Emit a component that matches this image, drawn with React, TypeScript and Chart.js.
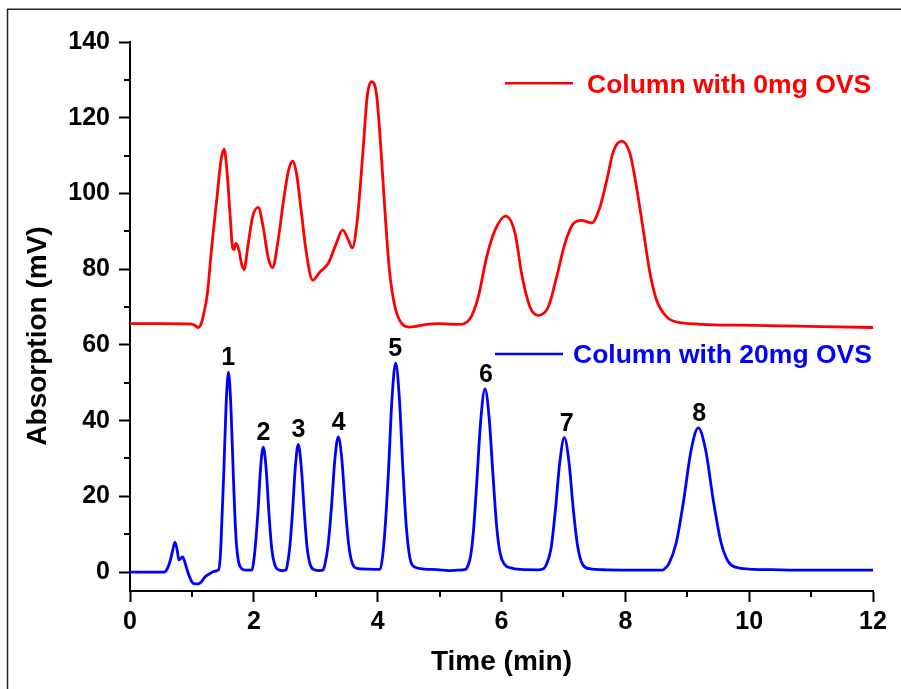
import { useEffect, useRef } from "react";
import { Chart, registerables } from "chart.js";

Chart.register(...registerables);

const FONT = "'Liberation Sans', Arial, Helvetica, sans-serif";

// Axis ticks
const xTicks = [0, 2, 4, 6, 8, 10, 12];
const xMinorTicks = [1, 3, 5, 7, 9, 11];
const yTicks = [0, 20, 40, 60, 80, 100, 120, 140];
const yMinorTicks = [10, 30, 50, 70, 90, 110, 130];

const xTitle = "Time (min)";
const yTitle = "Absorption (mV)";
const seriesNames = ["Column with 0mg OVS", "Column with 20mg OVS"];

// Red trace: column with 0mg OVS
const redTime = [
  0, 0.5, 1.0, 1.06, 1.1, 1.14, 1.18, 1.25, 1.32, 1.4, 1.47, 1.52, 1.57, 1.615,
  1.66, 1.68, 1.71, 1.76, 1.8, 1.84, 1.91, 1.98, 2.07, 2.15, 2.23, 2.3, 2.4,
  2.48, 2.56, 2.63, 2.69, 2.77, 2.85, 2.95, 3.07, 3.2, 3.31, 3.435, 3.53, 3.59,
  3.67, 3.76, 3.83, 3.9, 3.98, 4.05, 4.12, 4.19, 4.28, 4.39, 4.52, 4.79, 5.0,
  5.3, 5.49, 5.625, 5.76, 5.895, 6.067, 6.22, 6.325, 6.46, 6.594, 6.755, 6.89,
  7.025, 7.16, 7.295, 7.456, 7.59, 7.7, 7.805, 7.94, 8.075, 8.18, 8.29, 8.4,
  8.506, 8.668, 8.88, 9.85, 12.0,
];
const redValue = [
  65.6, 65.6, 65.5, 65.0, 64.6, 65.2, 67.4, 73.6, 85.9, 98.2, 108.8, 111.7,
  105.2, 94.7, 85.5, 85.2, 86.8, 85.0, 81.5, 79.9, 86.8, 93.8, 96.3, 91.2, 83.2,
  80.4, 88.5, 98.2, 106.1, 108.5, 105.2, 94.7, 84.1, 77.1, 79.3, 81.5, 85.9,
  90.3, 87.6, 85.6, 92.9, 110.5, 125.5, 129.5, 126.4, 112.3, 94.7, 79.7, 70.0,
  65.6, 64.7, 65.4, 65.6, 65.4, 66.9, 72.7, 83.2, 90.3, 94.0, 89.4, 78.8, 70.0,
  67.8, 70.0, 77.9, 86.8, 92.0, 92.9, 92.2, 96.4, 103.5, 111.0, 113.8, 110.5,
  101.7, 90.3, 78.8, 71.8, 67.4, 65.9, 65.2, 64.6,
];

// Blue trace: column with 20mg OVS
const blueTime = [
  0, 0.55, 0.6, 0.65, 0.69, 0.727, 0.76, 0.79, 0.82, 0.85, 0.89, 0.94, 1.0,
  1.05, 1.1, 1.15, 1.21, 1.29, 1.36, 1.43, 1.46, 1.48, 1.515, 1.55, 1.59, 1.63,
  1.67, 1.71, 1.75, 1.8, 1.87, 1.97, 2.0, 2.02, 2.065, 2.11, 2.153, 2.2, 2.245,
  2.29, 2.34, 2.4, 2.46, 2.52, 2.545, 2.58, 2.625, 2.67, 2.718, 2.77, 2.815,
  2.86, 2.91, 2.98, 3.06, 3.12, 3.15, 3.2, 3.255, 3.31, 3.364, 3.42, 3.475,
  3.53, 3.59, 3.67, 3.8, 4.0, 4.04, 4.08, 4.12, 4.175, 4.23, 4.29, 4.35, 4.405,
  4.46, 4.52, 4.6, 4.75, 5.0, 5.15, 5.3, 5.42, 5.46, 5.5, 5.545, 5.6, 5.665,
  5.733, 5.8, 5.865, 5.925, 5.98, 6.05, 6.15, 6.3, 6.6, 6.68, 6.72, 6.8, 6.87,
  6.94, 7.014, 7.09, 7.16, 7.23, 7.31, 7.42, 7.7, 8.2, 8.6, 8.64, 8.7, 8.82,
  8.94, 9.06, 9.178, 9.3, 9.42, 9.54, 9.66, 9.8, 10.0, 10.5, 11.0, 12.0,
];
const blueValue = [
  0, 0, 0.8, 3.0, 5.8, 7.9, 6.0, 3.2, 3.6, 4.0, 2.4, -0.3, -2.6, -3.1, -3.1,
  -2.6, -1.3, -0.4, 0.2, 0.6, 4.5, 12.0, 26.4, 43.3, 52.8, 43.5, 25.0, 9.5,
  3.0, 1.0, 0.5, 0.5, 3.2, 6.1, 15.6, 27.7, 33.0, 27.0, 15.3, 6.0, 1.8, 0.6,
  0.4, 0.6, 2.3, 6.5, 16.0, 27.7, 33.7, 27.0, 15.8, 6.5, 2.0, 0.6, 0.4, 0.6,
  2.2, 7.2, 17.5, 30.0, 35.7, 30.0, 17.8, 7.5, 2.3, 1.0, 0.8, 0.7, 0.8, 4.2,
  11.6, 26.8, 45.4, 55.2, 46.0, 28.0, 12.5, 3.8, 1.3, 0.8, 0.6, 0.4, 0.5, 0.7,
  1.8, 4.2, 10.5, 23.5, 40.1, 48.4, 40.8, 25.0, 11.5, 4.8, 2.0, 1.1, 0.7, 0.6,
  0.9, 1.8, 6.2, 16.3, 28.8, 35.5, 29.0, 16.5, 6.8, 2.0, 0.9, 0.6, 0.5, 0.5,
  1.0, 2.1, 7.6, 18.7, 32.0, 38.1, 32.0, 19.0, 8.2, 2.8, 1.2, 0.8, 0.6, 0.5,
  0.5,
];

// Peak annotations (blue trace)
const peakNames = ["1", "2", "3", "4", "5", "6", "7", "8"];
const peakTime = [1.585, 2.155, 2.72, 3.37, 4.285, 5.75, 7.055, 9.195];
const peakValue = [52.8, 33.0, 33.7, 35.7, 55.2, 48.4, 35.5, 38.1];

const decorPlugin = {
  id: "decor",
  beforeDraw(chart: any) {
    const ctx = chart.ctx as CanvasRenderingContext2D;
    ctx.save();
    ctx.fillStyle = "#ffffff";
    ctx.fillRect(0, 0, chart.width, chart.height);
    // page frame lines
    ctx.strokeStyle = "#262626";
    ctx.lineWidth = 1.5;
    ctx.beginPath();
    ctx.moveTo(7, 9.25);
    ctx.lineTo(chart.width, 9.25);
    ctx.moveTo(7.5, 9);
    ctx.lineTo(7.5, chart.height);
    ctx.stroke();
    ctx.restore();
  },
  afterDraw(chart: any) {
    const ctx = chart.ctx as CanvasRenderingContext2D;
    const xs = chart.scales.x;
    const ys = chart.scales.y;
    const area = chart.chartArea;
    ctx.save();

    // minor ticks
    ctx.strokeStyle = "#000";
    ctx.lineWidth = 2;
    ctx.beginPath();
    xMinorTicks.forEach((v) => {
      const px = Math.round(xs.getPixelForValue(v));
      ctx.moveTo(px, area.bottom);
      ctx.lineTo(px, area.bottom + 6);
    });
    yMinorTicks.forEach((v) => {
      const py = Math.round(ys.getPixelForValue(v));
      ctx.moveTo(area.left, py);
      ctx.lineTo(area.left - 6, py);
    });
    ctx.stroke();

    // peak labels
    ctx.fillStyle = "#000";
    ctx.font = `bold 25px ${FONT}`;
    ctx.textAlign = "center";
    ctx.textBaseline = "alphabetic";
    peakNames.forEach((n, i) => {
      const px = xs.getPixelForValue(peakTime[i]);
      const py = ys.getPixelForValue(peakValue[i]);
      ctx.fillText(n, px, py - 16 + 9);
    });

    // legend
    const legend = [
      { name: seriesNames[0], color: "#ff0000", x0: 505, x1: 573, tx: 587, y: 83.3 },
      { name: seriesNames[1], color: "#0000ff", x0: 495, x1: 563, tx: 573, y: 354 },
    ];
    ctx.font = `bold 26.5px ${FONT}`;
    ctx.textAlign = "left";
    legend.forEach((l) => {
      ctx.strokeStyle = l.color;
      ctx.lineWidth = 2.5;
      ctx.beginPath();
      ctx.moveTo(l.x0, l.y);
      ctx.lineTo(l.x1, l.y);
      ctx.stroke();
      ctx.fillStyle = l.color;
      ctx.fillText(l.name, l.tx, l.y + 9.4);
    });

    // axis titles
    ctx.fillStyle = "#000";
    ctx.font = `bold 28px ${FONT}`;
    ctx.textAlign = "center";
    ctx.fillText(xTitle, (area.left + area.right) / 2, 670);
    ctx.translate(45.5, 336);
    ctx.rotate(-Math.PI / 2);
    ctx.fillText(yTitle, 0, 0);

    ctx.restore();
  },
};

export default function App() {
  const ref = useRef<HTMLCanvasElement>(null);

  useEffect(() => {
    if (!ref.current) return;
    const chart = new Chart(ref.current, {
      type: "line",
      data: {
        datasets: [
          {
            label: seriesNames[0],
            data: redTime.map((t, i) => ({ x: t, y: redValue[i] })),
            borderColor: "#ff0000",
            borderWidth: 2.8,
            pointRadius: 0,
            fill: false,
            cubicInterpolationMode: "monotone",
          },
          {
            label: seriesNames[1],
            data: blueTime.map((t, i) => ({ x: t, y: blueValue[i] })),
            borderColor: "#0000ff",
            borderWidth: 2.8,
            pointRadius: 0,
            fill: false,
            cubicInterpolationMode: "monotone",
          },
        ],
      },
      options: {
        animation: false,
        responsive: false,
        devicePixelRatio: 1,
        layout: { padding: { top: 42, right: 28, left: 0, bottom: 0 } },
        plugins: {
          legend: { display: false },
          tooltip: { enabled: false },
          title: { display: false },
        },
        scales: {
          x: {
            type: "linear",
            min: 0,
            max: 12,
            afterBuildTicks: (scale: any) => {
              scale.ticks = xTicks.map((v) => ({ value: v }));
            },
            afterFit: (scale: any) => {
              scale.height = 98;
            },
            border: { display: true, color: "#000", width: 2 },
            grid: {
              display: true,
              drawOnChartArea: false,
              drawTicks: true,
              tickLength: 11,
              tickWidth: 2,
              tickColor: "#000",
            },
            ticks: {
              color: "#000",
              font: { family: FONT, size: 25, weight: "bold" },
              padding: 5,
              maxRotation: 0,
              autoSkip: false,
            },
          },
          y: {
            type: "linear",
            min: -5,
            max: 140,
            afterBuildTicks: (scale: any) => {
              scale.ticks = yTicks.map((v) => ({ value: v }));
            },
            afterFit: (scale: any) => {
              scale.width = 130;
            },
            border: { display: true, color: "#000", width: 2 },
            grid: {
              display: true,
              drawOnChartArea: false,
              drawTicks: true,
              tickLength: 11,
              tickWidth: 2,
              tickColor: "#000",
            },
            ticks: {
              color: "#000",
              font: { family: FONT, size: 25, weight: "bold" },
              padding: 9,
              autoSkip: false,
            },
          },
        },
      },
      plugins: [decorPlugin],
    } as any);
    return () => chart.destroy();
  }, []);

  return (
    <div
      style={{
        position: "fixed",
        left: 0,
        top: 0,
        width: 901,
        height: 689,
        background: "#fff",
      }}
    >
      <canvas
        ref={ref}
        width={901}
        height={689}
        style={{ display: "block", width: 901, height: 689 }}
      />
    </div>
  );
}
